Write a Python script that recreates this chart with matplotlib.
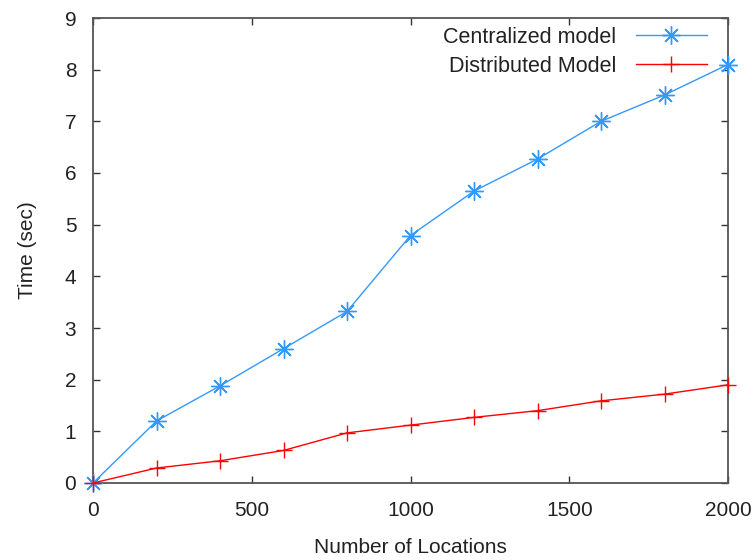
import matplotlib.pyplot as plt

locations = [0, 200, 400, 600, 800, 1000, 1200, 1400, 1600, 1800, 2000]
centralized = [0, 1.2, 1.88, 2.6, 3.32, 4.79, 5.65, 6.27, 7.0, 7.51, 8.1]
distributed = [0, 0.29, 0.43, 0.63, 0.97, 1.12, 1.27, 1.40, 1.59, 1.72, 1.90]

plt.rcParams['font.family'] = ['Liberation Sans', 'DejaVu Sans']
plt.rcParams['font.size'] = 15

fig = plt.figure(figsize=(7.55, 5.6), dpi=100)
ax = fig.add_axes([93 / 755, 1 - 483 / 560, (728 - 93) / 755, (483 - 18) / 560])

ax.plot(locations, centralized, color='#3399ff', lw=1.0, marker=(8, 2, 0),
        markersize=13, markeredgewidth=1.0, clip_on=False, zorder=3,
        label='Centralized model')
ax.plot(locations, distributed, color='#ff0000', lw=1.0, marker='+',
        markersize=12, markeredgewidth=1.0, clip_on=False, zorder=3,
        label='Distributed Model')

ax.set_xlim(0, 2000)
ax.set_ylim(0, 9)
ax.set_xticks([0, 500, 1000, 1500, 2000])
ax.set_yticks(range(10))

for s in ax.spines.values():
    s.set_color('#555555')
    s.set_linewidth(1.3)
ax.tick_params(direction='in', length=5, width=1, color='#333333',
               top=True, right=True, labelcolor='#222222', labelsize=15)
ax.tick_params(axis='x', pad=13)
ax.tick_params(axis='y', pad=12)

ax.set_xlabel('Number of Locations', color='#222222', labelpad=13)
ax.set_ylabel('Time (sec)', color='#222222', labelpad=20)

leg = ax.legend(loc='upper right', frameon=False, markerfirst=False,
                fontsize=15.5, handlelength=3.3, handletextpad=0.9,
                labelspacing=0.38, borderaxespad=0.0,
                bbox_to_anchor=(0.98, 1.0))
for t in leg.get_texts():
    t.set_color('#222222')

fig.savefig('out.png', dpi=100)
